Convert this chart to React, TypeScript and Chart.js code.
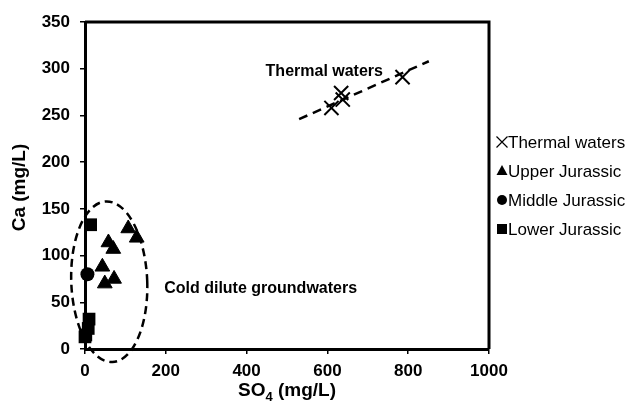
import React, { useEffect, useRef } from "react";
import { Chart, registerables } from "chart.js";

Chart.register(...registerables);

// ---- data ----
const thermalSO4 = [610, 634, 638, 786];
const thermalCa = [258, 274, 267, 291];
const upperSO4 = [107, 128, 58, 70, 43, 49, 72];
const upperCa = [129, 119, 114, 107, 88, 70, 75];
const middleSO4 = [6];
const middleCa = [80];
const lowerSO4 = [14, 10, 8, 2, 0];
const lowerCa = [133, 32, 22, 15, 13];
const trendSO4 = [530, 851];
const trendCa = [246, 308];

const seriesLabels = ["Thermal waters", "Upper Jurassic", "Middle Jurassic", "Lower Jurassic"];
const xTicks = [0, 200, 400, 600, 800, 1000];
const yTicks = [0, 50, 100, 150, 200, 250, 300, 350];

// ellipse around cold waters (data units): center x, center y, radius x, radius y
const coldEllipse = [60, 72, 94, 86];
// annotation texts with anchor (left, middle) in data units
const annotationTexts = ["Thermal waters", "Cold dilute groundwaters"];
const annotationX = [447, 196];
const annotationY = [297, 65];

const FONT = "'Liberation Sans', Arial, sans-serif";

const zip = (xs: number[], ys: number[]) => xs.map((x, i) => ({ x, y: ys[i] }));

const decorPlugin = {
  id: "decor",
  afterDatasetsDraw(chart: any) {
    const { ctx, chartArea, scales } = chart;
    const xs = scales.x;
    const ys = scales.y;
    ctx.save();
    // ellipse
    const cx = xs.getPixelForValue(coldEllipse[0]);
    const cy = ys.getPixelForValue(coldEllipse[1]);
    const rx = Math.abs(xs.getPixelForValue(coldEllipse[0] + coldEllipse[2]) - cx);
    const ry = Math.abs(ys.getPixelForValue(coldEllipse[1] + coldEllipse[3]) - cy);
    ctx.beginPath();
    ctx.setLineDash([8, 5]);
    ctx.lineWidth = 2.5;
    ctx.strokeStyle = "#000";
    ctx.ellipse(cx, cy, rx, ry, -0.04, 0, Math.PI * 2);
    ctx.stroke();
    ctx.setLineDash([]);

    // box top/right
    ctx.lineWidth = 3;
    ctx.beginPath();
    ctx.moveTo(chartArea.left, chartArea.top);
    ctx.lineTo(chartArea.right, chartArea.top);
    ctx.lineTo(chartArea.right, chartArea.bottom);
    ctx.stroke();

    // annotations
    ctx.fillStyle = "#000";
    ctx.font = `bold 16px ${FONT}`;
    ctx.textBaseline = "middle";
    ctx.textAlign = "left";
    annotationTexts.forEach((t, i) => {
      ctx.fillText(t, xs.getPixelForValue(annotationX[i]), ys.getPixelForValue(annotationY[i]));
    });

    // axis titles
    ctx.font = `bold 19px ${FONT}`;
    ctx.save();
    ctx.translate(20, (chartArea.top + chartArea.bottom) / 2 + 2);
    ctx.rotate(-Math.PI / 2);
    ctx.textAlign = "center";
    ctx.fillText("Ca (mg/L)", 0, 0);
    ctx.restore();

    const p1 = "SO";
    const p3 = " (mg/L)";
    ctx.font = `bold 19px ${FONT}`;
    const w1 = ctx.measureText(p1).width;
    const w3 = ctx.measureText(p3).width;
    ctx.font = `bold 13px ${FONT}`;
    const w2 = ctx.measureText("4").width;
    const total = w1 + w2 + w3;
    let sx = (chartArea.left + chartArea.right) / 2 - total / 2;
    const by = 391;
    ctx.textAlign = "left";
    ctx.font = `bold 19px ${FONT}`;
    ctx.fillText(p1, sx, by);
    sx += w1;
    ctx.font = `bold 13px ${FONT}`;
    ctx.fillText("4", sx, by + 6);
    sx += w2;
    ctx.font = `bold 19px ${FONT}`;
    ctx.fillText(p3, sx, by);

    // legend
    const lx = chartArea.right + 13;
    const ly0 = 142;
    const step = 29;
    ctx.font = `17px ${FONT}`;
    seriesLabels.forEach((lab, i) => {
      const y = ly0 + i * step;
      ctx.fillStyle = "#000";
      ctx.strokeStyle = "#000";
      ctx.beginPath();
      if (i === 0) {
        ctx.lineWidth = 1.2;
        ctx.moveTo(lx - 5.5, y - 5.5);
        ctx.lineTo(lx + 5.5, y + 5.5);
        ctx.moveTo(lx + 5.5, y - 5.5);
        ctx.lineTo(lx - 5.5, y + 5.5);
        ctx.stroke();
      } else if (i === 1) {
        ctx.moveTo(lx, y - 6);
        ctx.lineTo(lx + 5.5, y + 4);
        ctx.lineTo(lx - 5.5, y + 4);
        ctx.closePath();
        ctx.fill();
      } else if (i === 2) {
        ctx.arc(lx, y, 5, 0, Math.PI * 2);
        ctx.fill();
      } else {
        ctx.rect(lx - 5, y - 5, 10, 10);
        ctx.fill();
      }
      ctx.fillText(lab, lx + 6, y + 1);
    });
    ctx.restore();
  },
};

export default function App() {
  const ref = useRef<HTMLCanvasElement>(null);
  useEffect(() => {
    if (!ref.current) return;
    const tickFont = { family: FONT, size: 17, weight: "bold" as const };
    const chart = new Chart(ref.current, {
      type: "scatter",
      data: {
        datasets: [
          {
            label: "trend",
            data: zip(trendSO4, trendCa),
            showLine: true,
            borderColor: "#000",
            borderWidth: 2.5,
            borderDash: [9, 6],
            pointRadius: 0,
            clip: false as any,
          },
          {
            label: seriesLabels[0],
            data: zip(thermalSO4, thermalCa),
            pointStyle: "crossRot",
            pointRadius: 10,
            pointBorderWidth: 2,
            borderColor: "#000",
            backgroundColor: "#000",
            clip: false as any,
          },
          {
            label: seriesLabels[1],
            data: zip(upperSO4, upperCa),
            pointStyle: "triangle",
            pointRadius: 8.5,
            pointBorderWidth: 1,
            borderColor: "#000",
            backgroundColor: "#000",
            clip: false as any,
          },
          {
            label: seriesLabels[2],
            data: zip(middleSO4, middleCa),
            pointStyle: "circle",
            pointRadius: 7,
            pointBorderWidth: 0,
            borderColor: "#000",
            backgroundColor: "#000",
            clip: false as any,
          },
          {
            label: seriesLabels[3],
            data: zip(lowerSO4, lowerCa),
            pointStyle: "rect",
            pointRadius: 9,
            pointBorderWidth: 0,
            borderColor: "#000",
            backgroundColor: "#000",
            clip: false as any,
          },
        ],
      },
      options: {
        responsive: false,
        animation: false,
        devicePixelRatio: 1,
        layout: { padding: { left: 0, top: 22, right: 140, bottom: 0 } },
        plugins: { legend: { display: false }, tooltip: { enabled: false } },
        scales: {
          x: {
            type: "linear",
            min: 0,
            max: 1000,
            afterBuildTicks: (s: any) => {
              s.ticks = xTicks.map((v) => ({ value: v }));
            },
            afterFit: (s: any) => {
              s.height = 58;
            },
            ticks: {
              font: tickFont,
              color: "#000",
              padding: 7,
              maxRotation: 0,
              callback: (v: any) => String(v),
            },
            grid: {
              display: true,
              drawOnChartArea: false,
              drawTicks: true,
              tickLength: 5,
              color: "#000",
              lineWidth: 1.5,
            },
            border: { display: true, color: "#000", width: 3 },
          },
          y: {
            type: "linear",
            min: 0,
            max: 350,
            afterBuildTicks: (s: any) => {
              s.ticks = yTicks.map((v) => ({ value: v }));
            },
            afterFit: (s: any) => {
              s.width = 85;
            },
            ticks: { font: tickFont, color: "#000", padding: 10, callback: (v: any) => String(v) },
            grid: {
              display: true,
              drawOnChartArea: false,
              drawTicks: true,
              tickLength: 5,
              color: "#000",
              lineWidth: 1.5,
            },
            border: { display: true, color: "#000", width: 3 },
          },
        },
      },
      plugins: [decorPlugin],
    });
    return () => chart.destroy();
  }, []);
  return (
    <div style={{ position: "absolute", left: 0, top: 0, width: 629, height: 407, background: "#fff" }}>
      <canvas ref={ref} width={629} height={407} style={{ width: 629, height: 407 }} />
    </div>
  );
}
